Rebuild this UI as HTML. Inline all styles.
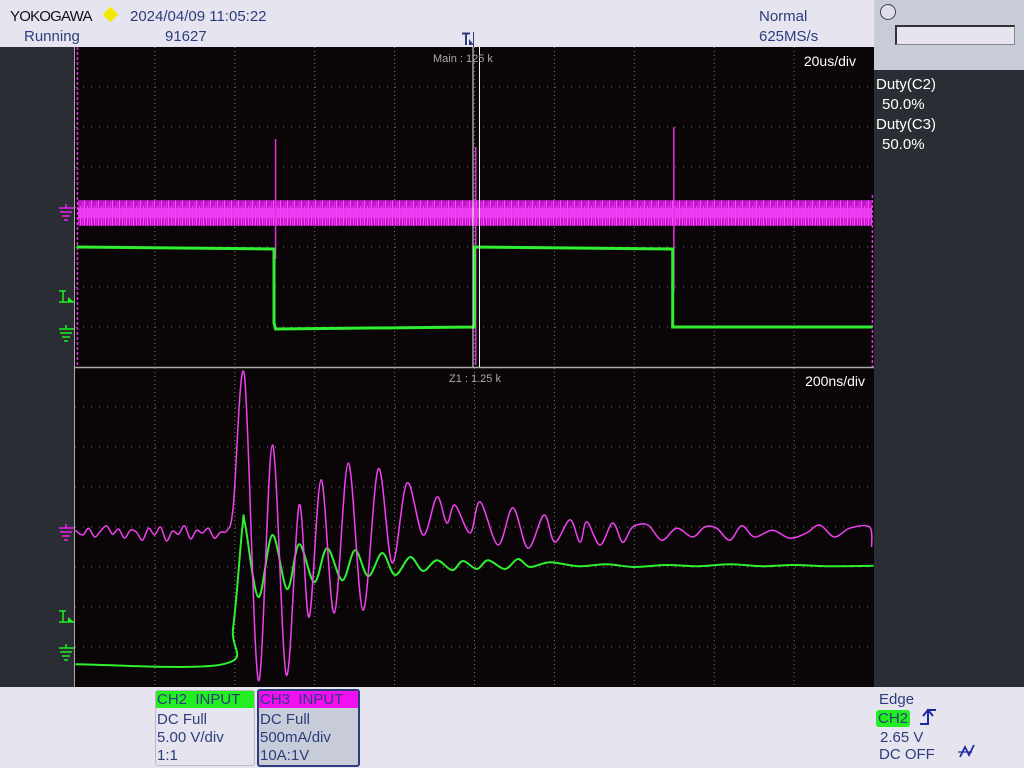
<!DOCTYPE html>
<html><head><meta charset="utf-8">
<style>
html,body{margin:0;padding:0;width:1024px;height:768px;overflow:hidden;background:#e6e4ee;font-family:"Liberation Sans","DejaVu Sans",sans-serif;}
.t{position:absolute;white-space:nowrap;color:#2b3d7c;font-size:15px;line-height:17px;}
</style></head>
<body>
<div style="position:absolute;left:0;top:0;width:1024px;height:768px;">
<div class="t" style="left:10px;top:8px;color:#111;font-size:15px;letter-spacing:-0.8px;">YOKOGAWA</div>
<div style="position:absolute;left:105px;top:9px;width:11px;height:11px;background:#f5e800;transform:rotate(45deg);"></div>
<div class="t" style="left:130px;top:8px;">2024/04/09 11:05:22</div>
<div class="t" style="left:24px;top:28px;">Running</div>
<div class="t" style="left:165px;top:28px;">91627</div>
<div class="t" style="left:759px;top:8px;">Normal</div>
<div class="t" style="left:759px;top:28px;">625MS/s</div>
<div style="position:absolute;left:874px;top:0;width:150px;height:70px;background:#c8ccd8;"></div>
<div style="position:absolute;left:880px;top:4px;width:14px;height:14px;border:1.5px solid #444;border-radius:50%;background:#dde;"></div>
<div style="position:absolute;left:895px;top:25px;width:117px;height:17px;background:#e6e4ee;border-top:2px solid #333;border-left:2px solid #333;border-right:1px solid #888;border-bottom:1px solid #888;"></div>
<div style="position:absolute;left:0;top:47px;width:75px;height:640px;background:#2a2d33;"></div>
<div style="position:absolute;left:874px;top:70px;width:150px;height:617px;background:#2a2d33;"></div>
<div class="t" style="left:876px;top:76px;color:#fff;">Duty(C2)</div>
<div class="t" style="left:882px;top:96px;color:#fff;">50.0%</div>
<div class="t" style="left:876px;top:116px;color:#fff;">Duty(C3)</div>
<div class="t" style="left:882px;top:136px;color:#fff;">50.0%</div>

<svg id="scope" width="1024" height="768" style="position:absolute;left:0;top:0">
<defs>
<pattern id="noise" width="7" height="40" patternUnits="userSpaceOnUse">
<rect width="7" height="40" fill="#c018c8"/>
<rect x="0" y="0" width="1" height="40" fill="#ff50ff"/>
<rect x="3" y="6" width="1" height="30" fill="#ff40ff"/>
<rect x="5" y="2" width="1" height="36" fill="#e030e8"/>
</pattern>
</defs>
</svg>

<div style="position:absolute;left:155px;top:690px;width:98px;height:74px;border:1px solid #bbb;border-radius:3px;background:#e6e4ee;">
<div style="background:#22ee22;height:17px;color:#2b3d7c;font-size:15px;line-height:17px;padding-left:1px;">CH2&nbsp; INPUT</div></div>
<div class="t" style="left:157px;top:711px;">DC Full</div>
<div class="t" style="left:157px;top:729px;">5.00 V/div</div>
<div class="t" style="left:157px;top:747px;">1:1</div>
<div style="position:absolute;left:257px;top:689px;width:99px;height:74px;border:2px solid #2b3d7c;border-radius:3px;background:#c8ccd8;">
<div style="background:#f010f0;height:17px;color:#2b3d7c;font-size:15px;line-height:17px;padding-left:1px;">CH3&nbsp; INPUT</div></div>
<div class="t" style="left:260px;top:711px;">DC Full</div>
<div class="t" style="left:260px;top:729px;">500mA/div</div>
<div class="t" style="left:260px;top:747px;">10A:1V</div>

<div class="t" style="left:879px;top:691px;">Edge</div>
<div class="t" style="left:876px;top:710px;background:#22ee22;border-radius:3px;padding:0 2px;">CH2</div>
<div class="t" style="left:880px;top:729px;">2.65 V</div>
<div class="t" style="left:879px;top:746px;">DC OFF</div>
</div>

<script>
// ---- Top panel (20us/div) data ----
const greenTopT = [-99.6, -50.2, -50.2, -49.8, 0.0, 0.0, 49.6, 49.6, 99.6];
const greenTopD = [-1.0, -1.05, -2.9, -3.05, -3.0, -1.0, -1.05, -3.0, -3.0];
const magTopCenter = -0.15;
const magTopHalfWidth = 0.32;
const spikeT = [-99.4, -49.8, 0.3, 49.9, 99.6];
const spikeHigh = [4.0, 1.7, 1.5, 2.0, 0.3];
const spikeLow = [-4.0, -1.3, -3.95, -2.1, -4.0];

// ---- Bottom panel (200ns/div) data ----
const greenBotT = [-999,-629,-604,-581,-574,-541,-506,-469,-439,-401,-369,-331,-299,-266,-231,-199,-161,-129,-94,-56,-29,6,34,76,109,139,189,260,330,400,480,560,640,720,800,880,999];
const greenBotD = [-3.43,-3.43,-2.5,0,0.05,-1.75,-0.2,-1.55,-0.43,-1.38,-0.53,-1.33,-0.58,-1.23,-0.65,-1.2,-0.75,-1.1,-0.83,-1.08,-0.85,-1.05,-0.83,-1.05,-0.8,-1.0,-0.88,-0.98,-0.93,-1.0,-0.95,-0.98,-0.93,-0.98,-0.95,-0.98,-0.97];
const magBotT = [-999,-981,-966,-951,-936,-921,-906,-891,-876,-861,-846,-831,-816,-801,-786,-771,-756,-741,-726,-711,-696,-681,-666,-651,-636,-619,-604,-576,-541,-506,-471,-439,-414,-384,-351,-316,-279,-241,-206,-169,-129,-94,-69,-49,-11,14,59,96,134,174,201,239,264,281,314,346,371,396,434,469,506,546,576,606,639,669,701,746,789,831,864,901,939,989,994];
const magBotD = [-0.08,-0.2,-0.03,-0.25,-0.1,0.03,-0.18,-0.05,-0.28,-0.08,-0.13,-0.33,-0.03,-0.2,0,-0.35,-0.1,-0.18,0.03,-0.3,-0.08,-0.15,-0.03,-0.28,-0.13,-0.08,0.5,3.8,-3.83,2.05,-3.7,0.55,-2.25,1.18,-2.15,1.6,-2.08,1.45,-0.9,1.1,-0.2,0.75,0.1,0.55,-0.15,0.63,-0.45,0.48,-0.53,0.3,-0.38,0.18,-0.38,0.13,-0.45,0.1,-0.38,0,0.05,-0.33,-0.03,-0.25,0,-0.03,-0.33,0.03,-0.25,-0.08,-0.28,-0.15,0.05,-0.25,-0.03,0,-0.5];

const NS="http://www.w3.org/2000/svg";
const svg=document.getElementById('scope');
function mk(tag,attrs,parent){const e=document.createElementNS(NS,tag);for(const k in attrs)e.setAttribute(k,attrs[k]);(parent||svg).appendChild(e);return e;}

const X0=75, X1=874, CX=474.5, PXDIV=79.9;
const topY0=47, topY1=367, topCY=207;
const botY0=368, botY1=687, botCY=527;
const DIVY=40;
function xTop(t){return CX + t/20*PXDIV;}
function xBot(t){return CX + t/200*PXDIV;}
function yTop(d){return topCY - d*DIVY;}
function yBot(d){return botCY - d*DIVY;}

let bg=mk('rect',{x:X0,y:topY0,width:X1-X0,height:topY1-topY0,fill:'#0a0608'});


let bg2=mk('rect',{x:X0,y:botY0,width:X1-X0,height:botY1-botY0,fill:'#0a0608'});


let sep=mk('line',{x1:X0,x2:X1,y1:367.5,y2:367.5,stroke:'#aaa','stroke-width':1.5});


mk('line',{x1:X0-0.5,x2:X0-0.5,y1:topY0,y2:botY1,stroke:'#aaa','stroke-width':1});

function grid(y0,y1,cy,name){
  const g=mk('g',{});
  
  
  for(let i=1;i<10;i++){const x=X0+i*PXDIV;mk('line',{x1:x,x2:x,y1:y0,y2:y1,stroke:'#777','stroke-width':1,'stroke-dasharray':'1 3'},g);}
  for(let j=-3;j<=3;j++){const y=cy-j*DIVY;mk('line',{x1:X0,x2:X1,y1:y,y2:y,stroke:'#777','stroke-width':1,'stroke-dasharray':'1 7'},g);}
}
grid(topY0,topY1,topCY,'main-grid');
grid(botY0,botY1,botCY,'zoom-grid');

const band=mk('rect',{x:X0+3,y:yTop(magTopCenter+magTopHalfWidth),width:X1-X0-5,height:magTopHalfWidth*2*DIVY,fill:'url(#noise)'});


const band2=mk('rect',{x:X0+3,y:yTop(magTopCenter+magTopHalfWidth*0.4),width:X1-X0-5,height:magTopHalfWidth*0.8*DIVY,fill:'#f040f4',opacity:0.85});


for(let i=0;i<spikeT.length;i++){
  const s=mk('line',{x1:xTop(spikeT[i]),x2:xTop(spikeT[i]),y1:yTop(spikeHigh[i]),y2:yTop(spikeLow[i]),stroke:'#e030e0','stroke-width':1.5,'stroke-dasharray':(i==0||i==4)?'3 2':'none'});
  
  
}
let pts=greenTopT.map((t,i)=>xTop(t).toFixed(1)+','+yTop(greenTopD[i]).toFixed(1)).join(' ');
const gt=mk('polyline',{points:pts,fill:'none',stroke:'#30ee30','stroke-width':3});



for(const x of [473,479.5]){const l=mk('line',{x1:x,x2:x,y1:topY0,y2:topY1,stroke:'#eee','stroke-width':1});

}

function path(T,D,xf,yf){
  const P=T.map((t,i)=>[xf(t),yf(D[i])]);
  let d='M'+P[0][0].toFixed(1)+','+P[0][1].toFixed(1);
  for(let i=0;i<P.length-1;i++){
    const p0=P[Math.max(0,i-1)],p1=P[i],p2=P[i+1],p3=P[Math.min(P.length-1,i+2)];
    const c1=[p1[0]+(p2[0]-p0[0])/6,p1[1]+(p2[1]-p0[1])/6];
    const c2=[p2[0]-(p3[0]-p1[0])/6,p2[1]-(p3[1]-p1[1])/6];
    d+=' C'+c1[0].toFixed(1)+','+c1[1].toFixed(1)+' '+c2[0].toFixed(1)+','+c2[1].toFixed(1)+' '+p2[0].toFixed(1)+','+p2[1].toFixed(1);
  }
  return d;
}
const gb=mk('path',{d:path(greenBotT,greenBotD,xBot,yBot),fill:'none',stroke:'#30ee30','stroke-width':2});


const mb=mk('path',{d:path(magBotT,magBotD,xBot,yBot),fill:'none',stroke:'#f040f0','stroke-width':1.5});



function ground(y,color,name){
  const g=mk('g',{stroke:color,'stroke-width':1.5,fill:'none'});
  
  
  mk('line',{x1:59,x2:74,y1:y-4,y2:y-4},g);
  mk('line',{x1:66,x2:66,y1:y-8,y2:y-4},g);
  mk('line',{x1:60,x2:72,y1:y,y2:y},g);
  mk('line',{x1:62,x2:70,y1:y+4,y2:y+4},g);
  mk('line',{x1:64,x2:68,y1:y+8,y2:y+8},g);
}
ground(212,'#f020f0','ch3-main-ground-marker');
ground(333,'#20ee20','ch2-main-ground-marker');
ground(532,'#f020f0','ch3-zoom-ground-marker');
ground(652,'#20ee20','ch2-zoom-ground-marker');
function trig(y,name){
  const g=mk('g',{stroke:'#20ee20','stroke-width':1.5,fill:'#20ee20'});
  
  
  mk('line',{x1:59,x2:66,y1:y-9,y2:y-9},g);
  mk('line',{x1:63,x2:63,y1:y-9,y2:y+2},g);
  mk('line',{x1:59,x2:74,y1:y+2,y2:y+2},g);
  mk('polygon',{points:`68,${y-3} 74,${y+2} 68,${y+2}`,stroke:'none'},g);
}
trig(300,'main-trigger-level-marker');
trig(620,'zoom-trigger-level-marker');

function txt(x,y,s,size,color,name,anchor){
  const t=mk('text',{x:x,y:y,'font-size':size,fill:color,'font-family':'Liberation Sans, sans-serif','text-anchor':anchor||'start'});
  t.textContent=s;
  
  
}
txt(433,62,'Main : 125 k',11,'#aaa','main-zoom-factor');
txt(856,66,'20us/div',14,'#fff','main-timebase','end');
txt(449,382,'Z1 : 1.25 k',11,'#aaa','zoom-factor');
txt(865,386,'200ns/div',14,'#fff','zoom-timebase','end');
const tp=mk('g',{fill:'#2b3d7c',stroke:'#2b3d7c'});


mk('line',{x1:462,x2:470,y1:33.5,y2:33.5,'stroke-width':2},tp);
mk('line',{x1:466,x2:466,y1:33,y2:45,'stroke-width':2},tp);
mk('polygon',{points:'469,39 474,45 469,45',stroke:'none'},tp);
mk('line',{x1:473.5,x2:473.5,y1:32,y2:47,stroke:'#2b3d7c','stroke-width':1},tp);
const sl=mk('g',{stroke:'#1a2aa0','stroke-width':2,fill:'none'});


mk('polyline',{points:'920,724 928,724 928,710 936,710'},sl);
mk('polyline',{points:'923,716 928,710 933,716'},sl);
const nf=mk('polyline',{points:'960,757 965,747 969,755 974,745',stroke:'#1a2aa0','stroke-width':1.8,fill:'none'});


mk('line',{x1:958,x2:972,y1:752,y2:752,stroke:'#1a2aa0','stroke-width':1.2});
</script>
</body></html>
